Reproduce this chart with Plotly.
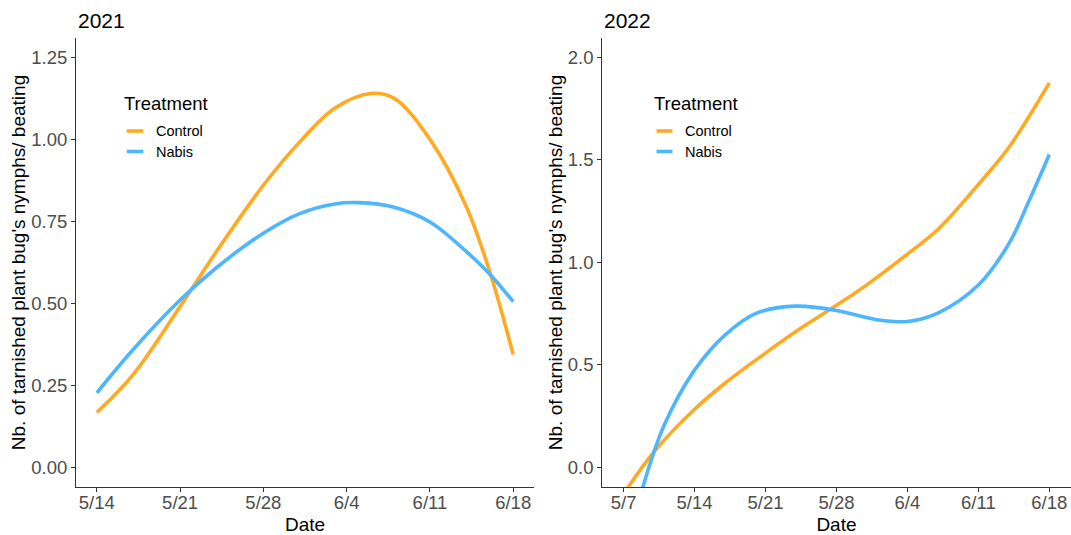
import plotly.graph_objects as go

W, H = 1071, 535

# ---------------- data ----------------
dates_control_2021 = ["2021-05-14", "2021-05-17", "2021-05-21", "2021-05-24", "2021-05-28",
                      "2021-05-31", "2021-06-03", "2021-06-06", "2021-06-08", "2021-06-11",
                      "2021-06-14", "2021-06-16", "2021-06-18"]
control_2021 = [0.167, 0.280, 0.490, 0.655, 0.860, 0.990, 1.095, 1.140, 1.125, 1.000,
                0.800, 0.600, 0.344]
dates_nabis_2021 = ["2021-05-14", "2021-05-17", "2021-05-21", "2021-05-24", "2021-05-28",
                    "2021-05-31", "2021-06-03", "2021-06-05", "2021-06-08", "2021-06-11",
                    "2021-06-14", "2021-06-16", "2021-06-18"]
nabis_2021 = [0.227, 0.357, 0.510, 0.607, 0.714, 0.773, 0.803, 0.807, 0.793, 0.748,
              0.660, 0.590, 0.505]

dates_control_2022 = ["2022-05-07", "2022-05-10", "2022-05-14", "2022-05-17", "2022-05-21",
                      "2022-05-24", "2022-05-28", "2022-05-31", "2022-06-04", "2022-06-07",
                      "2022-06-11", "2022-06-14", "2022-06-18"]
control_2022 = [-0.130, 0.075, 0.283, 0.410, 0.557, 0.662, 0.790, 0.890, 1.040, 1.160,
                1.380, 1.560, 1.875]
dates_nabis_2022 = ["2022-05-07", "2022-05-09", "2022-05-11", "2022-05-14", "2022-05-17",
                    "2022-05-20", "2022-05-24", "2022-05-28", "2022-06-01", "2022-06-04",
                    "2022-06-07", "2022-06-11", "2022-06-14", "2022-06-16", "2022-06-18"]
nabis_2022 = [-0.460, -0.080, 0.205, 0.474, 0.645, 0.750, 0.786, 0.765, 0.720, 0.711,
              0.752, 0.889, 1.090, 1.300, 1.526]

xticks_2021 = ["2021-05-14", "2021-05-21", "2021-05-28", "2021-06-04", "2021-06-11", "2021-06-18"]
xlabels_2021 = ["5/14", "5/21", "5/28", "6/4", "6/11", "6/18"]
xticks_2022 = ["2022-05-07", "2022-05-14", "2022-05-21", "2022-05-28", "2022-06-04", "2022-06-11", "2022-06-18"]
xlabels_2022 = ["5/7", "5/14", "5/21", "5/28", "6/4", "6/11", "6/18"]
yticks_2021 = [0, 0.25, 0.5, 0.75, 1.0, 1.25]
yticks_2022 = [0, 0.5, 1.0, 1.5, 2.0]

treatments = ["Control", "Nabis"]
colors = {"Control": "#FFAA22", "Nabis": "#4DB6FF"}
y_title = "Nb. of tarnished plant bug's nymphs/ beating"

# ---------------- figure ----------------
FONT = "Liberation Sans, Arial, Helvetica, sans-serif"
fig = go.Figure()

def px_x(p):
    return p / W

def px_y(p):
    return 1 - p / H

series = [
    ("x", "y", {"Control": (dates_control_2021, control_2021), "Nabis": (dates_nabis_2021, nabis_2021)}),
    ("x2", "y2", {"Control": (dates_control_2022, control_2022), "Nabis": (dates_nabis_2022, nabis_2022)}),
]
for xa, ya, vals in series:
    for t in treatments:
        d, v = vals[t]
        fig.add_trace(go.Scatter(
            x=d, y=v, mode="lines", name=t, xaxis=xa, yaxis=ya,
            line=dict(color=colors[t], width=3.6, shape="spline", smoothing=1.0),
            showlegend=False, hoverinfo="skip"))

ydom = [px_y(487.3), px_y(37.7)]
axis_common = dict(showline=True, linecolor="#333333", linewidth=1.1,
                   ticks="outside", ticklen=4, tickwidth=1, tickcolor="#333333",
                   showgrid=False, zeroline=False, automargin=False,
                   tickfont=dict(family=FONT, size=18.5, color="#4D4D4D"))
title_font = dict(family=FONT, size=19, color="black")

fig.update_layout(
    width=W, height=H, autosize=False,
    margin=dict(l=0, r=0, t=0, b=0, pad=0),
    paper_bgcolor="white", plot_bgcolor="white",
    showlegend=False,
    xaxis=dict(domain=[px_x(76), px_x(534)], anchor="y", type="date",
               range=["2021-05-12 06:00", "2021-06-19 18:00"],
               tickvals=xticks_2021, ticktext=xlabels_2021, ticklabelstandoff=-6,
               title=dict(text="Date", font=title_font, standoff=10),
               **axis_common),
    yaxis=dict(domain=ydom, anchor="x", range=[-0.061, 1.31],
               tickvals=yticks_2021, tickformat=".2f",
               title=dict(text=y_title, font=title_font, standoff=0),
               **axis_common),
    xaxis2=dict(domain=[px_x(602.3), px_x(1070.6)], anchor="y2", type="date",
                range=["2022-05-04 21:36", "2022-06-20 02:24"],
                tickvals=xticks_2022, ticktext=xlabels_2022, ticklabelstandoff=-6,
                title=dict(text="Date", font=title_font, standoff=10),
                **axis_common),
    yaxis2=dict(domain=ydom, anchor="x2", range=[-0.0976, 2.0956],
                tickvals=yticks_2022, tickformat=".1f",
                title=dict(text=y_title, font=title_font, standoff=0),
                **axis_common),
)

annotations = []
shapes = []
# panel titles
for txt, xp in [("2021", 75.5), ("2022", 602)]:
    annotations.append(dict(text=txt, x=px_x(xp), y=px_y(20), xref="paper", yref="paper",
                            xanchor="left", yanchor="middle", showarrow=False,
                            font=dict(family=FONT, size=21, color="black")))

# legends (one per panel)
for title_x, key_x0, key_x1, label_x in [(122, 126.7, 143.3, 154), (652, 656.5, 672.5, 683)]:
    annotations.append(dict(text="Treatment", x=px_x(title_x), y=px_y(103.5), xref="paper", yref="paper",
                            xanchor="left", yanchor="middle", showarrow=False,
                            font=dict(family=FONT, size=18.5, color="black")))
    for t, ky in [("Control", 131), ("Nabis", 151.5)]:
        shapes.append(dict(type="line", xref="paper", yref="paper",
                           x0=px_x(key_x0), x1=px_x(key_x1), y0=px_y(ky), y1=px_y(ky),
                           line=dict(color=colors[t], width=3.6)))
        annotations.append(dict(text=t, x=px_x(label_x), y=px_y(ky), xref="paper", yref="paper",
                                xanchor="left", yanchor="middle", showarrow=False,
                                font=dict(family=FONT, size=14.5, color="black")))

fig.update_layout(annotations=annotations, shapes=shapes)
fig.write_html(
    "out.html",
    include_plotlyjs=True,
    config={"displayModeBar": False},
    post_script="document.body.style.margin='0';document.body.style.padding='0';"
                "document.body.style.overflow='hidden';",
)
